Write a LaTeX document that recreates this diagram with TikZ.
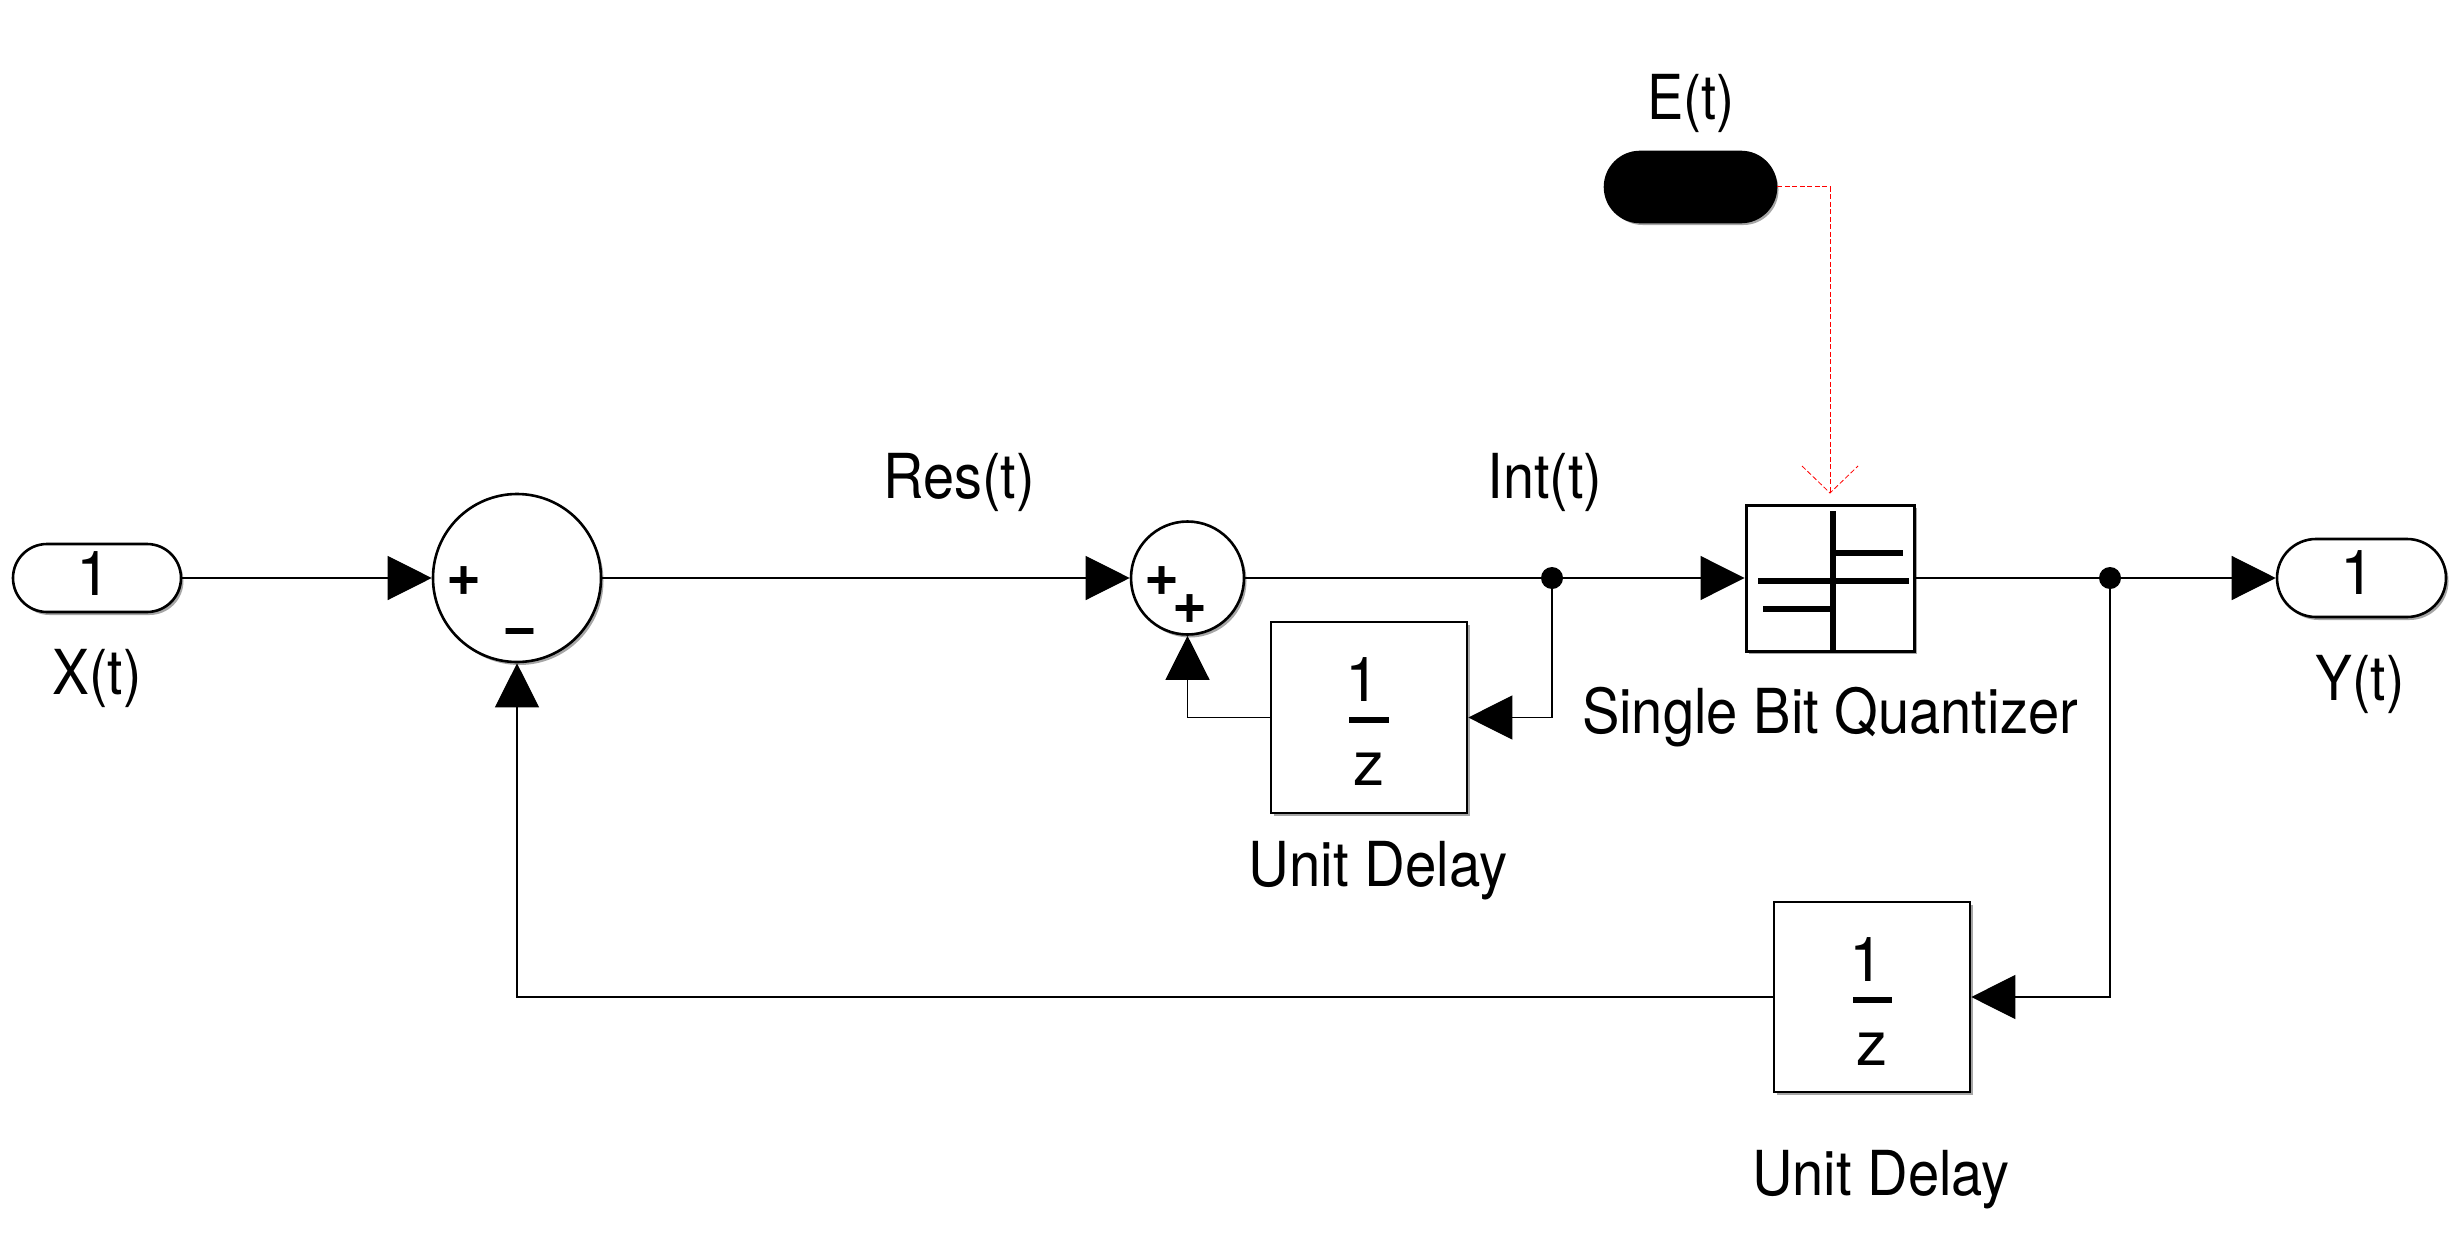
\documentclass[tikz,border=0pt]{standalone}
\usepackage{fontspec}
\setmainfont{TeX Gyre Heros}
\usetikzlibrary{arrows.meta,shapes.geometric,shapes.misc,shadows,calc}
\newcommand{\lbl}[2]{\scalebox{#1}[1]{#2}}
\tikzset{
  softshadow/.style={drop shadow={shadow xshift=2.5pt,shadow yshift=-3pt,fill=black,opacity=.35}},
  pill/.style={rounded rectangle,draw=black,line width=2.6pt,fill=white,inner sep=0pt,softshadow},
  dbox/.style={rectangle,draw=black,line width=2.6pt,fill=white,inner sep=0pt,softshadow},
  sumnode/.style={ellipse,draw=black,line width=2.6pt,fill=white,inner sep=0pt,softshadow},
  lab/.style={anchor=base,inner sep=0pt,font=\fontsize{62}{70}\selectfont},
  signbig/.style={inner sep=0pt,font=\fontsize{60}{64}\selectfont\bfseries},
  wire/.style={line width=1.2pt,draw=black},
  bigtip/.style={-{Triangle[length=44pt,width=44pt,fill=black]}},
  junction/.style={circle,fill=black,inner sep=0pt,minimum size=22pt},
  redwire/.style={line width=1pt,draw=red,dash pattern=on 5pt off 2.5pt},
  redtip/.style={line width=.8pt,draw=red,dash pattern=on 5pt off 2.5pt},
  bar/.style={line width=5.5pt,draw=black},
  fracbar/.style={line width=6pt,draw=black}
}
\begin{document}
\begin{tikzpicture}[x=1pt,y=-1pt]
\useasboundingbox (0,0) rectangle (2456,1252);
% blocks
\node[pill,minimum width=168pt,minimum height=68pt] (xin) at (97,578) {};
\node[pill,minimum width=169pt,minimum height=78pt] (yout) at (2361.5,578) {};
\node[pill,fill=black,minimum width=171pt,minimum height=70pt] (ein) at (1690.5,187) {};
\node[sumnode,minimum width=168pt,minimum height=168pt] (s1) at (517,578) {};
\node[sumnode,minimum width=113pt,minimum height=113pt] (s2) at (1187.5,578) {};
\node[dbox,minimum width=196pt,minimum height=191pt] (d1) at (1369,717.5) {};
\node[dbox,minimum width=196pt,minimum height=190pt] (d2) at (1872,997) {};
\node[dbox,line width=3pt,minimum width=168pt,minimum height=146pt] (q) at (1830,578) {};
\node[junction] (j1) at (1552,578) {};
\node[junction] (j2) at (2110,578) {};
\coordinate (qin) at (1830,493);
\coordinate (wl) at (1802,466);
\coordinate (wr) at (1858,466);
% quantizer symbol
\coordinate (qa) at (1833,511);
\coordinate (qb) at (1833,651);
\coordinate (qc) at (1758,581);
\coordinate (qd) at (1909,581);
\coordinate (qe) at (1830,553);
\coordinate (qf) at (1903,553);
\coordinate (qg) at (1763,609);
\coordinate (qh) at (1833,609);
\draw[bar] (qa) -- (qb);
\draw[bar] (qc) -- (qd);
\draw[bar] (qe) -- (qf);
\draw[bar] (qg) -- (qh);
% fraction bars
\coordinate (f1a) at (1349,720);
\coordinate (f1b) at (1389,720);
\coordinate (f2a) at (1853,1000);
\coordinate (f2b) at (1892,1000);
\draw[fracbar] (f1a) -- (f1b);
\draw[fracbar] (f2a) -- (f2b);
% connectors
\draw[wire,bigtip] (xin.east) -- (s1.west);
\draw[wire,bigtip] (s1.east) -- (s2.west);
\draw[wire] (s2.east) -- (j1.center);
\draw[wire,bigtip] (j1.center) -- (q.west);
\draw[wire] (q.east) -- (j2.center);
\draw[wire,bigtip] (j2.center) -- (yout.west);
\draw[wire,bigtip] (j1.center) |- (d1.east);
\draw[wire,bigtip] (d1.west) -| (s2.south);
\draw[wire,bigtip] (j2.center) |- (d2.east);
\draw[wire,bigtip] (d2.west) -| (s1.south);
\draw[redwire] (ein.east) -| (qin);
\draw[redtip] (wl) -- (qin) -- (wr);
% signs
\node[signbig] (p1) at (464,581) {+};
\node[signbig] (m1) at (520,637) {−};
\node[signbig] (p2) at (1162,581) {+};
\node[signbig] (p3) at (1190,609) {+};
% texts
\node[lab] (tx1) at (94,595) {1};
\node[lab] (ty1) at (2358,594) {1};
\node[lab] (td1a) at (1363,701) {1};
\node[lab] (td1b) at (1369,785) {z};
\node[lab] (td2a) at (1867,981) {1};
\node[lab] (td2b) at (1872,1065) {z};
\node[lab] (te) at (1691,120) {\lbl{.875}{E(t)}};
\node[lab] (tx) at (97,694) {\lbl{.89}{X(t)}};
\node[lab] (ty) at (2360,700) {\lbl{.89}{Y(t)}};
\node[lab] (tres) at (959,498) {\lbl{.9}{Res(t)}};
\node[lab] (tint) at (1545,498) {\lbl{.9}{Int(t)}};
\node[lab] (tq) at (1830,733) {\lbl{.905}{Single Bit Quantizer}};
\node[lab] (tu1) at (1378,886) {\lbl{.91}{Unit Delay}};
\node[lab] (tu2) at (1881,1195) {\lbl{.905}{Unit Delay}};
\end{tikzpicture}
\end{document}
